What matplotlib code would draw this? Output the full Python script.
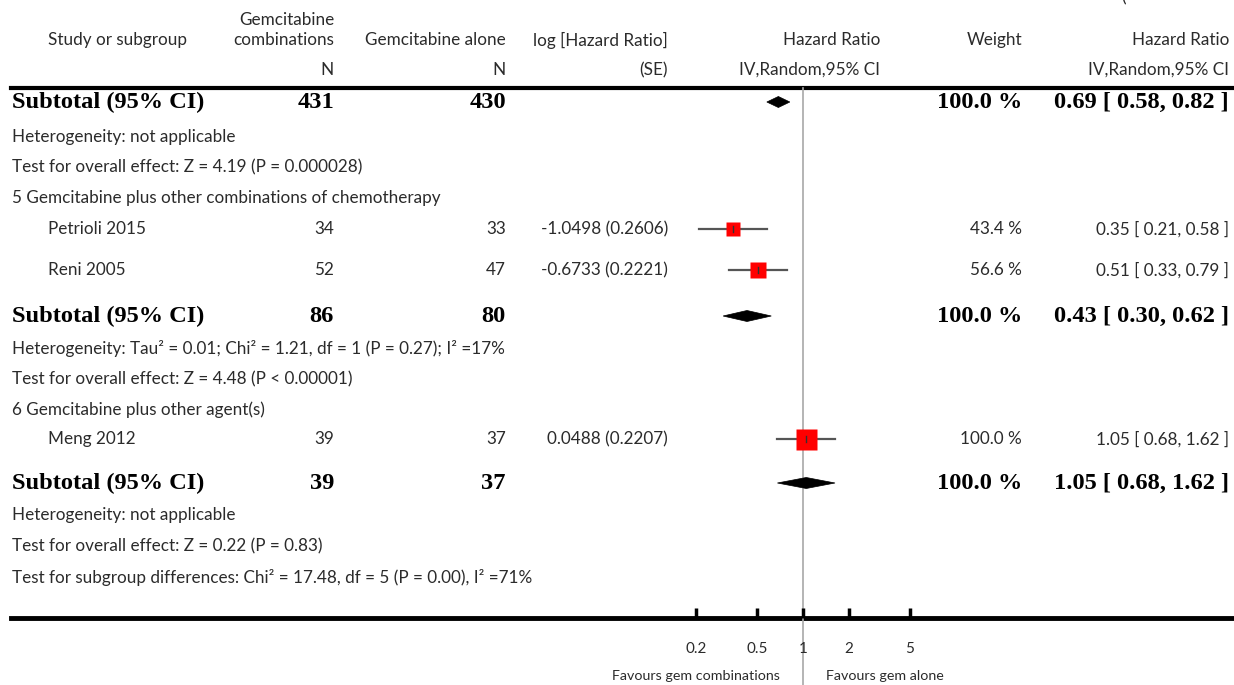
import numpy as np
import matplotlib
matplotlib.use('Agg')
import matplotlib.pyplot as plt
from matplotlib.patches import Polygon

# study rows
studies = ['Petrioli 2015', 'Reni 2005', 'Meng 2012']
n_comb = [34, 52, 39]
n_alone = [33, 47, 37]
log_hr_se = ['-1.0498 (0.2606)', '-0.6733 (0.2221)', '0.0488 (0.2207)']
hr = [0.35, 0.51, 1.05]
hr_lo = [0.21, 0.33, 0.68]
hr_hi = [0.58, 0.79, 1.62]
weights = [43.4, 56.6, 100.0]

# subgroup totals
sub_n_comb = [431, 86, 39]
sub_n_alone = [430, 80, 37]
sub_hr = [0.69, 0.43, 1.05]
sub_lo = [0.58, 0.30, 0.68]
sub_hi = [0.82, 0.62, 1.62]
sub_weight = [100.0, 100.0, 100.0]

sub_notes = [
    ['Heterogeneity: not applicable',
     'Test for overall effect: Z = 4.19 (P = 0.000028)'],
    ['Heterogeneity: Tau² = 0.01; Chi² = 1.21, df = 1 (P = 0.27); I² =17%',
     'Test for overall effect: Z = 4.48 (P < 0.00001)'],
    ['Heterogeneity: not applicable',
     'Test for overall effect: Z = 0.22 (P = 0.83)'],
]
group_titles = ['5 Gemcitabine plus other combinations of chemotherapy',
                '6 Gemcitabine plus other agent(s)']
footer = 'Test for subgroup differences: Chi² = 17.48, df = 5 (P = 0.00), I² =71%'

ticks = [0.2, 0.5, 1, 2, 5]
tick_labels = ['0.2', '0.5', '1', '2', '5']
favours = ['Favours gem combinations', 'Favours gem alone']

# layout (pixel rows, figure is 1234 x 685)
W, H = 1234, 685
study_y = [229, 270, 439]
sub_y = [102, 316, 483]
note_y = [[137, 167], [348, 379], [515, 546]]
title_y = [198, 410]
footer_y = 577
rule_top, rule_bot = 88, 618
decade = 152.8

SANS = ['Lato', 'DejaVu Sans']
SERIF = ['Liberation Serif', 'DejaVu Serif']
fs = 12.3
bfs = 17.6
col = '#2b2b2b'

fig = plt.figure(figsize=(W / 100, H / 100), dpi=100)
tx = fig.add_axes([0, 0, 1, 1])
tx.set_xlim(0, W)
tx.set_ylim(H, 0)
tx.axis('off')

# forest axis: log scale, 1 at x=803
x0 = 803 - decade
fx = fig.add_axes([x0 / W, 0, 2 * decade / W, 1])
fx.set_xscale('log')
fx.set_xlim(0.1, 10)
fx.set_ylim(H, 0)
fx.patch.set_visible(False)
for s in ['top', 'left', 'right']:
    fx.spines[s].set_visible(False)
fx.spines['bottom'].set_position(('data', rule_bot))
fx.spines['bottom'].set_visible(False)
fx.set_yticks([])
fx.set_xticks(ticks)
fx.set_xticklabels(tick_labels, fontsize=11, family=SANS, color=col)
fx.minorticks_off()
fx.tick_params(axis='x', direction='in', length=7, width=2.5, pad=17, color='black')

def t(x, y, s, ha='left', bold=False, size=None, color=None):
    if bold:
        tx.text(x, y, s, ha=ha, va='center', family=SERIF, weight='bold',
                fontsize=size or bfs, color='black')
    else:
        tx.text(x, y, s, ha=ha, va='center', family=SANS,
                fontsize=size or fs, color=color or col)

# header
t(48, 40, 'Study or subgroup')
t(334, 20, 'Gemcitabine', ha='right')
t(334, 40, 'combinations', ha='right')
t(506, 40, 'Gemcitabine alone', ha='right')
t(668, 40, 'log [Hazard Ratio]', ha='right')
t(880, 40, 'Hazard Ratio', ha='right')
t(1022, 40, 'Weight', ha='right')
t(1229, 40, 'Hazard Ratio', ha='right')
t(334, 70, 'N', ha='right')
t(506, 70, 'N', ha='right')
t(668, 70, '(SE)', ha='right')
t(880, 70, 'IV,Random,95% CI', ha='right')
t(1229, 70, 'IV,Random,95% CI', ha='right')
tx.text(1121, 2, '(', ha='left', va='baseline', family=SANS, fontsize=fs, color=col)

# rules
tx.plot([11, W], [rule_top, rule_top], color='black', lw=3)
tx.plot([11, W], [rule_bot, rule_bot], color='black', lw=3.5)
fx.plot([1, 1], [rule_top, H], color='#a8a8a8', lw=1.2, zorder=1)

# individual studies
for i, name in enumerate(studies):
    y = study_y[i]
    t(48, y, name)
    t(334, y, str(n_comb[i]), ha='right')
    t(506, y, str(n_alone[i]), ha='right')
    t(668, y, log_hr_se[i], ha='right')
    t(1022, y, f'{weights[i]:.1f} %', ha='right')
    t(1229, y, f'{hr[i]:.2f} [ {hr_lo[i]:.2f}, {hr_hi[i]:.2f} ]', ha='right')
    fx.plot([hr_lo[i], hr_hi[i]], [y, y], color='#555555', lw=1.6, zorder=2)
    side = 21 * np.sqrt(weights[i] / 100) * 0.72
    fx.plot(hr[i], y, marker='s', ms=side, color='red', mec='none', zorder=3)
    fx.plot([hr[i], hr[i]], [y - 3, y + 3], color='#333333', lw=1, zorder=4)

# subtotals
for k in range(3):
    y = sub_y[k]
    t(12, y, 'Subtotal (95% CI)', bold=True)
    t(334, y, str(sub_n_comb[k]), ha='right', bold=True)
    t(506, y, str(sub_n_alone[k]), ha='right', bold=True)
    t(1022, y, f'{sub_weight[k]:.1f} %', ha='right', bold=True)
    t(1229, y, f'{sub_hr[k]:.2f} [ {sub_lo[k]:.2f}, {sub_hi[k]:.2f} ]', ha='right', bold=True)
    d = Polygon([(sub_lo[k], y), (sub_hr[k], y - 5.5), (sub_hi[k], y), (sub_hr[k], y + 5.5)],
                closed=True, facecolor='black', edgecolor='black', lw=0.5, zorder=3)
    fx.add_patch(d)
    for s, ny in zip(sub_notes[k], note_y[k]):
        t(12, ny, s)

for s, y in zip(group_titles, title_y):
    t(12, y, s)
t(12, footer_y, footer)

# favours labels under the axis
gap = 10 ** (23 / decade)
fx.text(1 / gap, 676, favours[0], ha='right', va='center', family=SANS, fontsize=10.3, color=col)
fx.text(gap, 676, favours[1], ha='left', va='center', family=SANS, fontsize=10.3, color=col)

fig.savefig('out.png', dpi=100)
